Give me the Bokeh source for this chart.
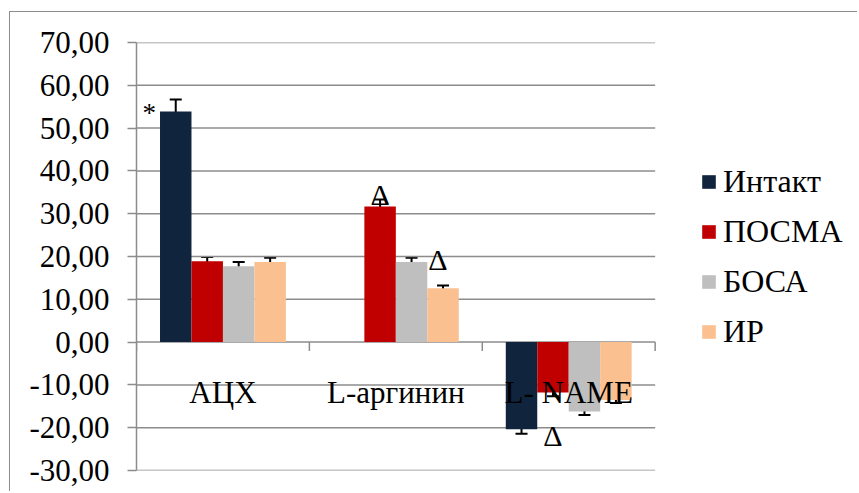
import math
from bokeh.plotting import figure
from bokeh.models import (ColumnDataSource, FactorRange, Range1d, FixedTicker,
                          Whisker, TeeHead, Legend, LegendItem)
from bokeh.transform import dodge
from bokeh.core.properties import value
from bokeh.embed import file_html
from bokeh.resources import INLINE

nan = float("nan")

categories = ["АЦХ", "L-аргинин", "L- NAME"]
series_names = ["Интакт", "ПОСМА", "БОСА", "ИР"]
intakt = [53.9, nan, -20.35]
posma = [18.9, 31.7, -11.8]
bosa = [17.7, 18.7, -16.2]
ir = [18.7, 12.6, -13.5]
intakt_err = [2.8, nan, 1.05]
posma_err = [1.0, 1.6, 0.85]
bosa_err = [1.0, 1.0, 0.85]
ir_err = [1.0, 0.6, 0.7]
y_ticks = [-30, -20, -10, 0, 10, 20, 30, 40, 50, 60, 70]
y_tick_labels = ["-30,00", "-20,00", "-10,00", "0,00", "10,00", "20,00",
                 "30,00", "40,00", "50,00", "60,00", "70,00"]
# significance marks: (category, series, symbol)
marks = [("АЦХ", "Интакт", "*"), ("L-аргинин", "ПОСМА", "Δ"),
         ("L-аргинин", "БОСА", "Δ"), ("L- NAME", "ПОСМА", "Δ")]

colors = ["#10243e", "#c00000", "#bfbfbf", "#fac090"]
FONT = "'Liberation Serif', 'Times New Roman', serif"
GRID = "#8c8c8c"
bar_w = 0.182
offsets = [-0.273, -0.091, 0.091, 0.273]


def key(c):
    return ("chart", c)


# the x range holds the three categories plus a blank slot for the legend
x_factors = [key(c) for c in categories] + [("legend", "slot")]

p = figure(width=848, height=480, output_backend="svg", toolbar_location=None,
           x_range=FactorRange(*x_factors, range_padding=0, factor_padding=0,
                               subgroup_padding=0, group_padding=0.153),
           y_range=Range1d(-30, 70),
           min_border_left=126, min_border_right=4, min_border_top=30,
           min_border_bottom=22)
p.styles = {"border-top": "1.5px solid #8c8c8c", "border-left": "1.5px solid #8c8c8c",
            "position": "relative", "left": "9px", "top": "11px"}
p.outline_line_color = None
p.xaxis.visible = False
p.xgrid.visible = False
p.ygrid.visible = False

ax = p.yaxis[0]
ax.ticker = FixedTicker(ticks=y_ticks)
ax.major_label_overrides = dict(zip(y_ticks, y_tick_labels))
ax.major_label_text_font = FONT
ax.major_label_text_font_size = "31px"
ax.major_label_text_color = "black"
ax.major_label_standoff = 18
ax.axis_line_color = GRID
ax.axis_line_width = 1.5
ax.major_tick_line_color = GRID
ax.major_tick_line_width = 1.5
ax.major_tick_out = 9
ax.major_tick_in = 0
ax.minor_tick_line_color = None

# horizontal gridlines over the three categories only
grid_src = ColumnDataSource(dict(c0=[key(categories[0])] * len(y_ticks),
                                 c1=[key(categories[-1])] * len(y_ticks), y=y_ticks))
p.segment(x0=dodge("c0", -0.5, range=p.x_range), x1=dodge("c1", 0.5, range=p.x_range),
          y0="y", y1="y", source=grid_src, line_color=GRID, line_width=1.5)

all_vals = [intakt, posma, bosa, ir]
all_errs = [intakt_err, posma_err, bosa_err, ir_err]
items = []
bar_sources = {}
for name, vals, errs, col, off in zip(series_names, all_vals, all_errs, colors, offsets):
    rows = [(c, v, e) for c, v, e in zip(categories, vals, errs) if not math.isnan(v)]
    src = ColumnDataSource(dict(x=[key(r[0]) for r in rows], val=[r[1] for r in rows],
                                upper=[r[1] + r[2] for r in rows],
                                lower=[r[1] - r[2] for r in rows]))
    bar_sources[name] = (src, off, dict((r[0], r[1]) for r in rows))
    r = p.vbar(x=dodge("x", off, range=p.x_range), top="val", bottom=0, width=bar_w,
               source=src, fill_color=col, line_color=None)
    items.append(LegendItem(label=name, renderers=[r]))

for name in series_names:
    src, off, _ = bar_sources[name]
    w = Whisker(base=dodge("x", off, range=p.x_range), upper="upper", lower="lower",
                source=src, line_color="black", line_width=2,
                upper_head=TeeHead(size=12, line_color="black", line_width=2),
                lower_head=TeeHead(size=12, line_color="black", line_width=2))
    p.add_layout(w)

# category separator ticks below the zero line
tick_len = 9 * 100 / 428
sep_cats = categories + [categories[-1]]
sep_offs = [-0.5] * len(categories) + [0.5]
for c, o in zip(sep_cats, sep_offs):
    s = ColumnDataSource(dict(x=[key(c)], y0=[0], y1=[-tick_len]))
    p.segment(x0=dodge("x", o, range=p.x_range), x1=dodge("x", o, range=p.x_range),
              y0="y0", y1="y1", source=s, line_color=GRID, line_width=1.5)

# category labels
cat_src = ColumnDataSource(dict(x=[key(c) for c in categories], name=categories,
                                y=[0] * len(categories)))
p.text(x="x", y="y", text="name", source=cat_src, y_offset=50,
       text_align="center", text_baseline="alphabetic",
       text_font=value(FONT), text_font_size="31px", text_color="black")

# significance marks
mark_style = [dict(dx=-bar_w / 2, align="right", xo=-4, yo=2, size="27px", base="middle"),
              dict(dx=0, align="center", xo=0, yo=-12, size="30px", base="alphabetic"),
              dict(dx=bar_w / 2, align="left", xo=1, yo=-3, size="30px", base="alphabetic"),
              dict(dx=0, align="center", xo=0, yo=43, size="30px", base="alphabetic")]
for (cat, ser, sym), st in zip(marks, mark_style):
    src, off, lookup = bar_sources[ser]
    s = ColumnDataSource(dict(x=[key(cat)], y=[lookup[cat]], t=[sym]))
    p.text(x=dodge("x", off + st["dx"], range=p.x_range), y="y", text="t", source=s,
           x_offset=st["xo"], y_offset=st["yo"], text_align=st["align"],
           text_baseline=st["base"], text_font=value(FONT),
           text_font_size=st["size"], text_color="black")

legend = Legend(items=items, location=(564, 120), orientation="vertical",
                glyph_width=17, glyph_height=17, label_standoff=6, label_height=37,
                label_text_font=FONT, label_text_font_size="32px",
                label_text_color="black", spacing=13, padding=0, margin=0,
                border_line_color=None, background_fill_alpha=0)
p.add_layout(legend)

open("out.html", "w").write(file_html(p, INLINE))
